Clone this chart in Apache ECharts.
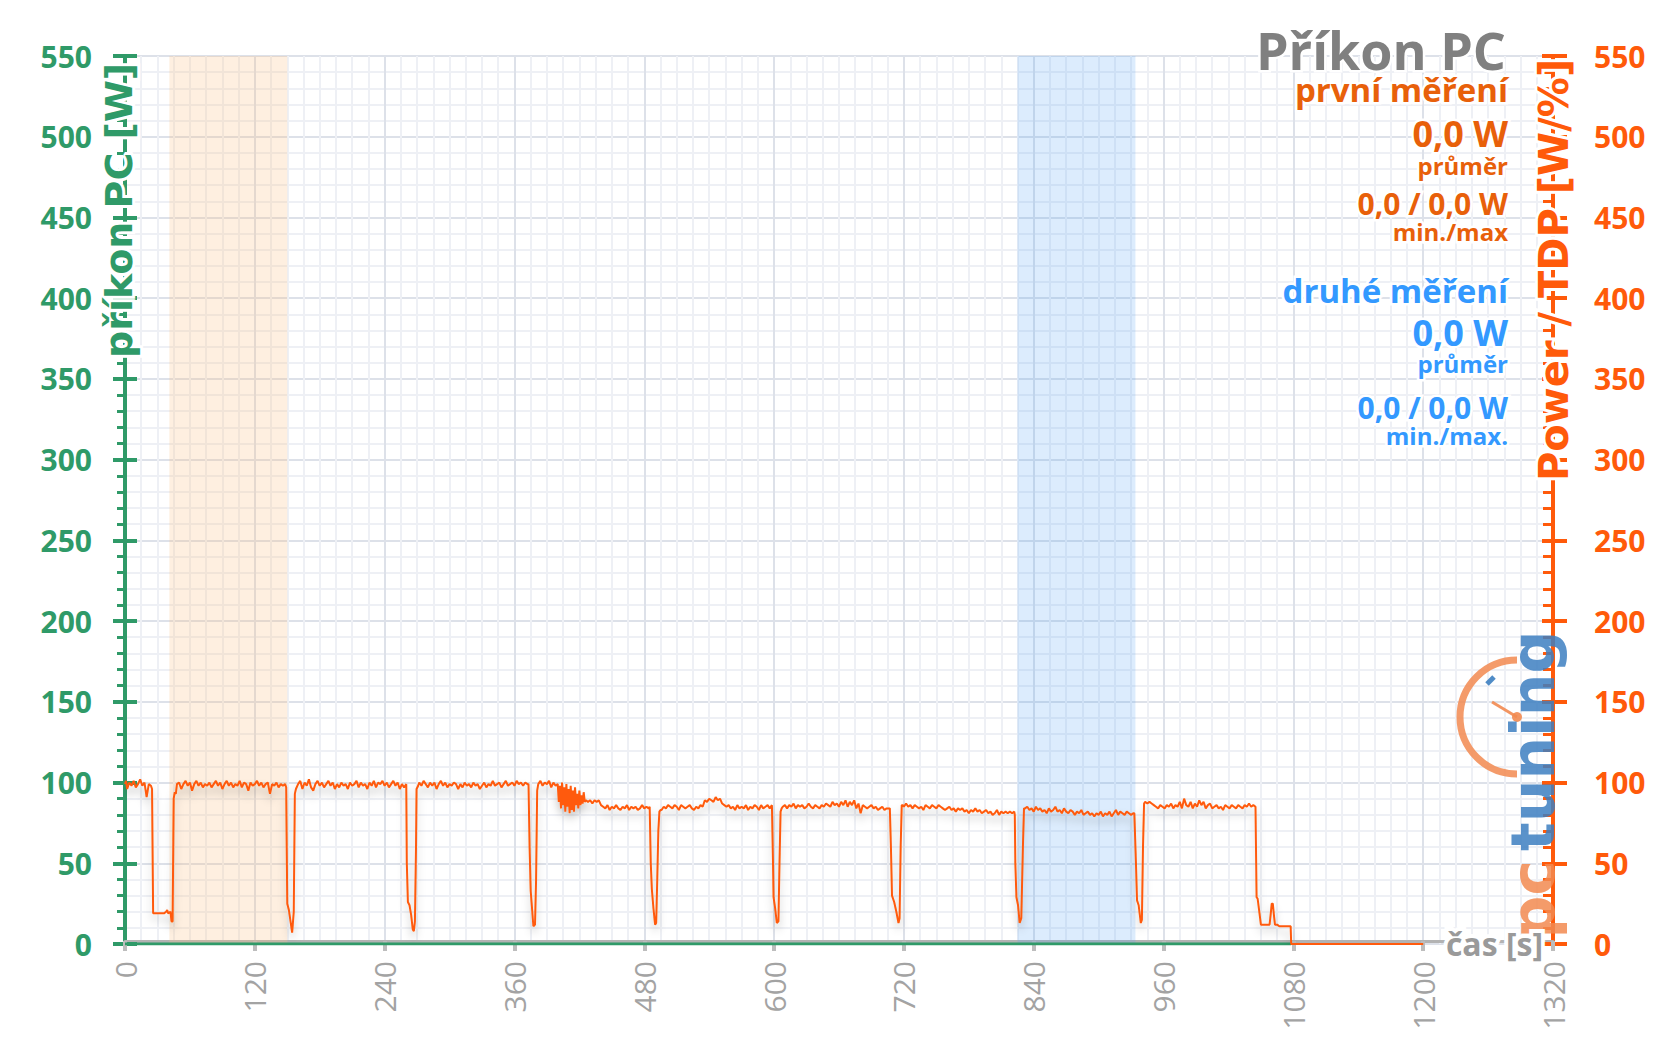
<!DOCTYPE html>
<html><head><meta charset="utf-8">
<script src="https://cdn.jsdelivr.net/npm/echarts@6/dist/echarts.min.js"></script>
<style>html,body{margin:0;padding:0;background:#fff}#c{width:1657px;height:1044px}</style>
</head><body><div id="c"></div>
<script>
// ---- data ----
const xTicks = [0, 120, 240, 360, 480, 600, 720, 840, 960, 1080, 1200, 1320];
const yTicks = [0, 50, 100, 150, 200, 250, 300, 350, 400, 450, 500, 550];
const firstBand = [41, 150];
const secondBand = [825, 934];
const pcTime = [0, 1078];
const pcValue = [0, 0];
// Power / TDP trace: [time s, W]
const powerTrace = [
[0,99],[1,101],[2,96],[4,100],[6,98],[8,101],[10,97],[12,99],[14,102],[16,98],[18,100],[20,91],[22,99],[24,98],[25,96],
[26,19],[28,19],[30,19],[32,19],[34,19],[36,19],[38,20],[39,21],[40,19],[42,20],[43,14],[44,14],[45,90],[46,94],[47,93],
[48,99],[50,100],[52,96],[54,99],[56,101],[58,98],[60,100],[62,95],[64,99],[66,101],[68,98],[70,100],[72,97],[74,99],[76,98],[78,100],[80,97],[82,99],[84,101],[86,98],[88,100],[90,96],[92,99],[94,101],[96,98],[98,100],[100,97],[102,99],[104,98],[106,101],[108,97],[110,100],[112,99],[114,95],[116,100],[118,98],[120,99],[122,101],[124,98],[126,100],[128,97],[130,99],[132,100],[134,93],[136,99],[138,98],[140,100],[142,97],[144,99],[146,98],[148,99],
[149,97],[149.5,60],[150,25],[151.5,21],[153,14],[154.5,7],[156,20],[157,93],[158,96],
[160,99],[162,101],[164,96],[166,100],[168,98],[170,102],[172,97],[174,95],[176,99],[178,101],[180,98],[182,100],[184,97],[186,99],[188,101],[190,98],[192,100],[194,96],[196,99],[198,97],[200,100],[202,98],[204,99],[206,96],[208,100],[210,98],[212,99],[214,101],[216,97],[218,100],[220,98],[222,99],[224,96],[226,100],[228,98],[230,101],[232,97],[234,100],[236,99],[238,101],[240,98],[242,100],[244,97],[246,99],[248,101],[250,98],[252,100],[254,96],[256,99],[258,97],
[260,99],[260.5,50],[261.5,26],[263,24],[264.5,18],[266,9],[267,8],[268,14],[269,60],[269.5,96],[271,98],
[272,100],[274,98],[276,101],[278,99],[280,97],[282,100],[284,98],[286,100],[288,96],[290,99],[292,101],[294,98],[296,100],[298,97],[300,99],[302,98],[304,100],[306,99],[308,96],[310,99],[312,97],[314,100],[316,98],[318,99],[320,97],[322,100],[324,98],[326,99],[328,96],[330,98],[332,100],[334,97],[336,99],[338,98],[340,101],[342,98],[344,99],[346,100],[348,97],[350,99],[352,101],[354,98],[356,99],[358,100],[360,98],[362,101],[364,99],[366,100],[368,98],[370,100],[372,99],
[373,99],[374,60],[375,33],[376.5,20],[377.5,11],[379,12],[380,40],[381,95],[382,99],
[384,101],[386,98],[388,100],[390,99],[392,101],[394,97],[396,100],[398,98],
[400,99],[401,88],[402,98],[403,84],[404,100],[405,86],[406,97],[407,82],[408,99],[409,85],[410,96],[411,81],[412,98],[413,83],[414,95],[415,82],[416,97],[417,86],[418,93],[419,84],[420,95],[421,86],[422,92],[423,87],[424,94],[425,88],[426,89],
[428,88],[430,89],[432,87],[434,89],[436,88],[438,89],[440,86],
[442,85],[444,84],[446,86],[448,83],[450,85],[452,84],[454,86],[456,84],[458,83],[460,85],[462,84],[464,86],[466,83],[468,85],[470,84],[472,85],[474,83],[476,84],[478,86],[480,84],[482,85],[484,84],
[485,85],[486,50],[487,34],[488.5,22],[490,12],[491,13],[492,40],[493,70],[494,82],[495,83],
[496,83],[498,85],[500,84],[502,86],[504,85],[506,84],[508,86],[510,85],[512,83],[514,86],[516,85],[518,84],[520,85],[522,86],[524,84],[526,83],[528,85],[530,84],[532,86],[534,85],[536,89],[538,88],[540,90],[542,89],[544,88],[546,91],[548,89],[550,90],[552,87],[554,86],[556,85],[558,86],[560,84],[562,85],[564,83],[566,86],[568,84],[570,85],[572,84],[574,86],[576,83],[578,85],[580,84],[582,86],[584,85],[586,83],[588,86],[590,84],[592,85],[594,86],[596,84],[598,86],
[599,50],[599.5,29],[601,22],[602.5,13],[604,14],[605,50],[606,82],[607,84],
[608,85],[610,86],[612,84],[614,86],[616,85],[618,87],[620,84],[622,86],[624,85],[626,86],[628,84],[630,85],[632,87],[634,85],[636,84],[638,86],[640,85],[642,84],[644,86],[646,85],[648,87],[650,86],[652,85],[654,88],[656,86],[658,87],[660,85],[662,88],[664,86],[666,89],[668,85],[670,88],[672,86],[674,89],[676,84],[678,87],[680,81],[682,86],[684,85],[686,84],[688,85],[690,86],[692,84],[694,85],[696,83],[698,84],[700,85],[702,83],[704,84],[706,84],
[707,84],[708,60],[709,30],[711,26],[713,20],[715,13],[716,16],[717,60],[718,86],
[719,86],[720,85],[722,87],[724,85],[726,86],[728,84],[730,86],[732,85],[734,84],[736,85],[738,83],[740,86],[742,85],[744,84],[746,86],[748,85],[750,84],[752,86],[754,85],[756,84],[758,83],[760,84],[762,85],[764,83],[766,84],[768,82],[770,84],[772,83],[774,84],[776,82],[778,83],[780,81],[782,83],[784,82],[786,84],[788,82],[790,83],[792,81],[794,82],[796,83],[798,81],[800,82],[802,80],[804,81],[806,83],[808,80],[810,82],[812,81],[814,82],[816,81],[818,82],[820,81],[822,82],
[822.5,80],[823,50],[824,29],[825.5,24],[827,13],[828.5,16],[830,60],[831,84],
[832,84],[834,85],[836,83],[838,84],[840,82],[842,85],[844,83],[846,84],[848,82],[850,83],[852,81],[854,84],[856,82],[858,83],[860,85],[862,82],[864,83],[866,81],[868,84],[870,82],[872,81],[874,83],[876,82],[878,80],[880,82],[882,81],[884,83],[886,80],[888,81],[890,82],[892,80],[894,81],[896,79],[898,81],[900,80],[902,82],[904,79],[906,81],[908,80],[910,82],[912,79],[914,81],[916,83],[918,80],[920,82],[922,81],[924,80],[926,82],[928,81],[930,80],[932,81],[933,81],
[934.5,50],[935.5,27],[937,24],[939,13],[940,15],[941,60],[942,87],
[943,88],[945,87],[947,88],[949,87],[951,86],[953,85],[955,84],[957,86],[959,85],[961,84],[963,86],[965,85],[967,87],[969,84],[971,86],[973,85],[975,88],[977,84],[979,90],[981,86],[983,85],[985,88],[987,84],[989,87],[991,85],[993,89],[995,86],[997,88],[999,84],[1001,86],[1003,87],[1005,84],[1007,85],[1009,86],[1011,84],[1013,85],[1015,83],[1017,86],[1019,85],[1021,84],[1023,86],[1025,85],[1027,84],[1029,86],[1031,85],[1033,84],[1035,86],[1037,85],[1039,87],[1041,85],[1043,86],[1045,85],
[1046,29],[1047,28],[1048.5,20],[1050,12],[1052,12],[1054,12],[1056,12],[1058,12],[1059,18],[1060,25],[1061,25],[1062,18],[1063,12],[1065,12],[1067,11],[1070,11],[1073,11],[1076,11],[1077.5,11],[1078,0],[1200,0]
];

// ---- styling ----
const GREEN = '#2f9a68', ORANGE = '#ff5a0a', TXT_OR = '#e8600a', BLUE = '#3399ff';
const GRID_MAJOR = '#dde1e9', GRID_MINOR = '#eef0f5';
const OS = '"Open Sans", "Noto Sans", sans-serif';
const DJ = '"DejaVu Sans", sans-serif';

function txt(x, y, text, size, color, align, opts) {
  opts = opts || {};
  return {
    type: 'text', x: x, y: y, rotation: opts.rotation || 0, z: opts.z || 100,
    style: {
      text: text, fill: color,
      font: 'bold ' + size + 'px ' + (opts.family || OS),
      align: align, textAlign: align, verticalAlign: 'middle', textVerticalAlign: 'middle',
      stroke: opts.stroke === undefined ? '#ffffff' : opts.stroke, lineWidth: opts.lw === undefined ? 5 : opts.lw,
      opacity: opts.opacity || 1
    }
  };
}

const chart = echarts.init(document.getElementById('c'), null, {renderer: 'svg'});
const xMin = xTicks[0], xMax = xTicks[xTicks.length - 1];
const yMin = yTicks[0], yMax = yTicks[yTicks.length - 1];
const xInt = xTicks[1] - xTicks[0], yInt = yTicks[1] - yTicks[0];

const yBase = {type: 'value', min: yMin, max: yMax, interval: yInt};

chart.setOption({
  animation: false,
  backgroundColor: '#ffffff',
  grid: {left: 125, right: 104, top: 56, bottom: 100, containLabel: false, outerBoundsMode: 'none'},
  xAxis: {
    type: 'value', min: xMin, max: xMax, interval: xInt, offset: -3,
    axisLine: {show: true, onZero: false, lineStyle: {color: '#b3b3b3', width: 3}},
    axisTick: {show: true, length: 10, lineStyle: {color: '#bdbdbd', width: 4}},
    minorTick: {show: false, splitNumber: 8},
    axisLabel: {rotate: 90, margin: 20, color: '#a3a3a3', fontSize: 30, fontFamily: OS, formatter: v => String(v)},
    splitLine: {show: true, lineStyle: {color: GRID_MAJOR, width: 2}},
    minorSplitLine: {show: true, lineStyle: {color: GRID_MINOR, width: 2}}
  },
  yAxis: [
    Object.assign({}, yBase, {
      position: 'left',
      axisLine: {show: true, onZero: false, lineStyle: {color: GREEN, width: 4}},
      axisTick: {show: true, inside: false, length: 12, lineStyle: {color: GREEN, width: 4}},
      minorTick: {show: true, splitNumber: 5, length: 8, lineStyle: {color: GREEN, width: 3}},
      axisLabel: {margin: 33, color: GREEN, fontSize: 30, fontWeight: 'bold', fontFamily: OS, formatter: v => String(v)},
      splitLine: {show: true, lineStyle: {color: GRID_MAJOR, width: 2}},
      minorSplitLine: {show: true, lineStyle: {color: GRID_MINOR, width: 2}}
    }),
    Object.assign({}, yBase, {
      position: 'left',
      axisLine: {show: false, onZero: false},
      axisTick: {show: true, inside: true, length: 12, lineStyle: {color: GREEN, width: 4}},
      axisLabel: {show: false}, splitLine: {show: false}
    }),
    Object.assign({}, yBase, {
      position: 'right',
      axisLine: {show: true, onZero: false, lineStyle: {color: ORANGE, width: 4}},
      axisTick: {show: true, inside: false, length: 14, lineStyle: {color: ORANGE, width: 4}},
      axisLabel: {margin: 41, color: ORANGE, fontSize: 30, fontWeight: 'bold', fontFamily: OS, formatter: v => String(v)},
      splitLine: {show: false}
    }),
    Object.assign({}, yBase, {
      position: 'right',
      axisLine: {show: false, onZero: false},
      axisTick: {show: true, inside: true, length: 11, lineStyle: {color: ORANGE, width: 4}},
      minorTick: {show: true, splitNumber: 5, length: 10, lineStyle: {color: ORANGE, width: 3}},
      axisLabel: {show: false}, splitLine: {show: false}
    })
  ],
  series: [
    {
      type: 'line', name: 'příkon PC', yAxisIndex: 0, showSymbol: false, z: 3,
      data: pcTime.map((t, i) => [t, pcValue[i]]),
      lineStyle: {color: GREEN, width: 3},
      markArea: {
        silent: true,
        data: [
          [{xAxis: firstBand[0], itemStyle: {color: 'rgba(250,190,130,0.25)'}}, {xAxis: firstBand[1]}],
          [{xAxis: secondBand[0], itemStyle: {color: 'rgba(80,160,245,0.2)'}}, {xAxis: secondBand[1]}]
        ]
      }
    },
    {
      type: 'line', name: 'Power / TDP', yAxisIndex: 2, showSymbol: false, z: 4,
      data: powerTrace,
      lineStyle: {color: ORANGE, width: 2, shadowColor: 'rgba(0,0,0,0.22)', shadowBlur: 8, shadowOffsetY: 6}
    }
  ],
  graphic: [
    // logo (decorative watermark)
    {type: 'arc', z: 1, shape: {cx: 1517, cy: 717, r: 57, startAngle: Math.PI / 2, endAngle: Math.PI * 1.5, clockwise: true},
      style: {stroke: '#f28a50', lineWidth: 7, fill: 'none', opacity: 0.85}},
    {type: 'line', z: 1, shape: {x1: 1517, y1: 717, x2: 1492, y2: 702}, style: {stroke: '#f28a50', lineWidth: 3, opacity: 0.9}},
    {type: 'circle', z: 1, shape: {cx: 1517, cy: 717, r: 5}, style: {fill: '#f28a50', opacity: 0.9}},
    {type: 'line', z: 1, shape: {x1: 1487, y1: 684, x2: 1494, y2: 677}, style: {stroke: '#3d7fc1', lineWidth: 5, opacity: 0.9}},
    txt(1533, 851, 'tuning', 60, '#3d7fc1', 'left', {rotation: Math.PI / 2, family: DJ, stroke: 'none', lw: 0, z: 1, opacity: 0.85}),
    txt(1533, 860, 'pc', 60, '#f28a50', 'right', {rotation: Math.PI / 2, family: DJ, stroke: 'none', lw: 0, z: 1, opacity: 0.85}),
    // axis titles
    txt(119, 358, 'příkon PC [W]', 38, GREEN, 'left', {rotation: Math.PI / 2, family: DJ, lw: 6}),
    txt(1554, 481, 'Power / TDP [W/%]', 40, ORANGE, 'left', {rotation: Math.PI / 2, family: DJ, lw: 6}),
    txt(1543, 943, 'čas [s]', 32, '#9a9a9a', 'right', {lw: 8}),
    // title / summary block
    txt(1506, 49, 'Příkon PC', 52, '#808080', 'right'),
    txt(1508, 89, 'první měření', 33, TXT_OR, 'right'),
    txt(1508, 133, '0,0 W', 36, TXT_OR, 'right'),
    txt(1508, 165, 'průměr', 24, TXT_OR, 'right'),
    txt(1508, 203, '0,0 / 0,0 W', 30, TXT_OR, 'right'),
    txt(1508, 231, 'min./max', 24, TXT_OR, 'right'),
    txt(1508, 290, 'druhé měření', 33, BLUE, 'right'),
    txt(1508, 332, '0,0 W', 36, BLUE, 'right'),
    txt(1508, 363, 'průměr', 24, BLUE, 'right'),
    txt(1508, 407, '0,0 / 0,0 W', 30, BLUE, 'right'),
    txt(1508, 435, 'min./max.', 24, BLUE, 'right')
  ]
});
</script>
</body></html>
